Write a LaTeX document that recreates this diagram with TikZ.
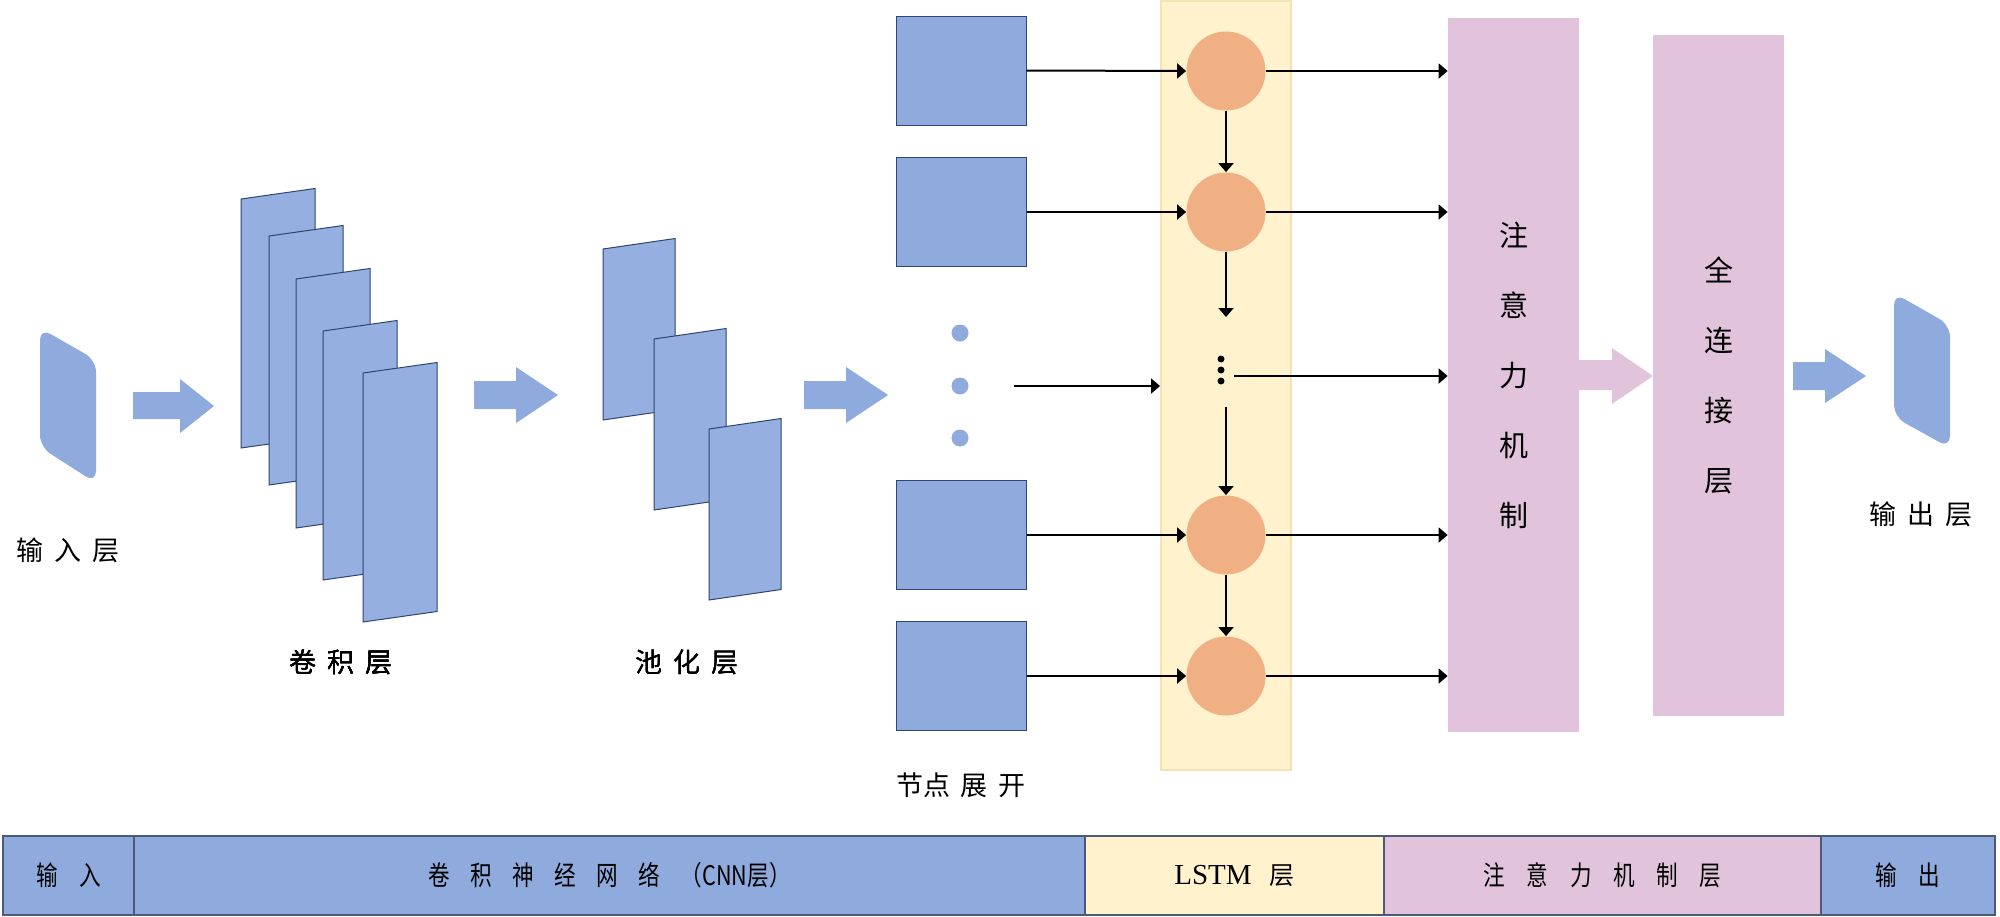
\documentclass[tikz,border=0pt]{standalone}
\usepackage{fontspec}
\setmainfont{Liberation Serif}
\newfontfamily\cjk{Noto Sans CJK SC}
\usetikzlibrary{positioning,arrows.meta}

\definecolor{mapblue}{HTML}{94AFE0}
\definecolor{boxblue}{HTML}{8FAADC}
\definecolor{edgeblue}{HTML}{2F4470}
\definecolor{lstmyellow}{HTML}{FFF2CC}
\definecolor{lstmedge}{HTML}{F2E2B4}
\definecolor{cellorange}{HTML}{F0B083}
\definecolor{attnpink}{HTML}{E1C4DB}
\definecolor{bargray}{HTML}{4A5A78}

\newcommand{\lsp}{\hspace{0.4em}}
\newcommand{\slim}[1]{\scalebox{0.8}[1]{#1}}
\newcommand{\featmap}[4]{\draw[fmap] (#1,#2) -- ++(#3,-10.5) -- ++(0,#4) -- ++(-#3,10.5) -- cycle;}

\tikzset{
  fmap/.style={fill=mapblue, draw=edgeblue, line width=0.5pt},
  unitbox/.style={rectangle, fill=boxblue, draw=edgeblue, line width=0.5pt,
    minimum width=65pt, minimum height=54.5pt, inner sep=0pt},
  cell/.style={circle, fill=cellorange, minimum size=39.5pt, inner sep=0pt},
  bluedot/.style={circle, fill=boxblue, minimum size=8.5pt, inner sep=0pt},
  flow/.style={-{Triangle[length=4.5pt,width=7.5pt]}, line width=1pt},
  tall/.style={rectangle, fill=attnpink, inner sep=0pt, minimum width=65.5pt,
    align=center, font=\cjk\fontsize{14.5}{35}\selectfont},
  lbl/.style={font=\cjk\fontsize{13.5}{16}\selectfont},
  barseg/.style={rectangle, draw=bargray, line width=0.8pt, minimum height=39.5pt,
    inner sep=0pt, font=\cjk\fontsize{13.5}{16}\selectfont},
}

\begin{document}
\begin{tikzpicture}[x=0.5pt,y=-0.5pt]
\useasboundingbox (0,0) rectangle (2000,916);

% input layer
\fill[boxblue, rounded corners=6pt] (40,447) -- (40,328) -- (96,360) -- (96,483) -- cycle;
\node[lbl] (inlbl) at (68,550) {输\lsp 入\lsp 层};
\fill[boxblue] (133,392) -- (180,392) -- (180,379) -- (214,406) -- (180,433) -- (180,419) -- (133,419) -- cycle;

% convolution maps
\foreach \x/\y in {241/199, 269/236, 296/279, 323/331, 363/373}
  \featmap{\x}{\y}{74}{249}
\node[lbl] (convlbl) at (341,662) {卷\lsp 积\lsp 层};
\fill[boxblue] (474,381) -- (516,381) -- (516,367) -- (558,395) -- (516,423) -- (516,409) -- (474,409) -- cycle;

% pooling maps
\foreach \x/\y in {603/249, 654/339, 709/429}
  \featmap{\x}{\y}{72}{171}
\node[lbl] (poollbl) at (687,662) {池\lsp 化\lsp 层};
\fill[boxblue] (804,381) -- (846,381) -- (846,367) -- (888,395) -- (846,423) -- (846,409) -- (804,409) -- cycle;

% unfolded nodes
\node[unitbox] (u1) at (961,70.5) {};
\node[unitbox] (u2) at (961,212) {};
\node[bluedot] (d1) at (960,333) {};
\node[bluedot] (d2) at (960,386) {};
\node[bluedot] (d3) at (960,438) {};
\node[unitbox] (u3) at (961,535) {};
\node[unitbox] (u4) at (961,676) {};
\node[lbl] (unitlbl) at (961,785) {节点\lsp 展\lsp 开};

% LSTM band
\filldraw[fill=lstmyellow, draw=lstmedge, line width=0.6pt] (1161,1) rectangle (1291,770);
\node[cell] (c1) at (1226,71) {};
\node[cell] (c2) at (1226,212) {};
\node[cell] (c3) at (1226,535) {};
\node[cell] (c4) at (1226,676) {};
\foreach \y in {359,370,381}
  \fill (1221,\y) circle (1.75pt);
\coordinate (vd1) at (1226,317);
\coordinate (vd2) at (1226,407);
\coordinate (midin) at (1014,386);
\coordinate (midband) at (1160,386);
\coordinate (midout) at (1234,376);

% attention and dense layers
\node[tall, minimum height=357pt] (attn) at (1513.5,375) {注\\意\\力\\机\\制};
\node[tall, minimum height=340.5pt] (fc) at (1718.5,375.5) {全\\连\\接\\层};
\fill[attnpink] (1579,360) -- (1612,360) -- (1612,348) -- (1653,376) -- (1612,404) -- (1612,390) -- (1579,390) -- cycle;
\fill[boxblue] (1793,362) -- (1825,362) -- (1825,349) -- (1866,376) -- (1825,403) -- (1825,390) -- (1793,390) -- cycle;

% output layer
\fill[boxblue, rounded corners=6pt] (1894,417) -- (1894,293) -- (1950,325) -- (1950,448) -- cycle;
\node[lbl] (outlbl) at (1921,514) {输\lsp 出\lsp 层};

% connectors
\foreach \i in {1,...,4} {
  \draw[flow] (u\i.east) -- (c\i.west);
  \draw[flow] (c\i.east) -- (c\i.east -| attn.west);
}
\draw[flow] (c1) -- (c2);
\draw[flow] (c2) -- (vd1);
\draw[flow] (vd2) -- (c3);
\draw[flow] (c3) -- (c4);
\draw[flow] (midin) -- (midband);
\draw[flow] (midout) -- (midout -| attn.west);

% legend bar
\node[barseg, fill=boxblue, minimum width=65.5pt] (barin) at (68.5,875.5) {\slim{输\hspace{1em}入}};
\node[barseg, fill=boxblue, minimum width=475.5pt] (barcnn) at (609.5,875.5)
  {\slim{卷\hspace{0.95em}积\hspace{0.95em}神\hspace{0.95em}经\hspace{0.95em}网\hspace{0.95em}络\hspace{0.95em}（CNN层）}};
\node[barseg, fill=lstmyellow, minimum width=149.5pt] (barlstm) at (1234.5,875.5)
  {\rmfamily\fontsize{14.5}{16}\selectfont LSTM\hspace{9pt}{\cjk\fontsize{12.5}{16}\selectfont 层}};
\node[barseg, fill=attnpink, minimum width=218.5pt] (barattn) at (1602.5,875.5)
  {\slim{注\hspace{1em}意\hspace{1em}力\hspace{1em}机\hspace{1em}制\hspace{1em}层}};
\node[barseg, fill=boxblue, minimum width=87pt] (barout) at (1908,875.5) {\slim{输\hspace{1em}出}};

\end{tikzpicture}
\end{document}
